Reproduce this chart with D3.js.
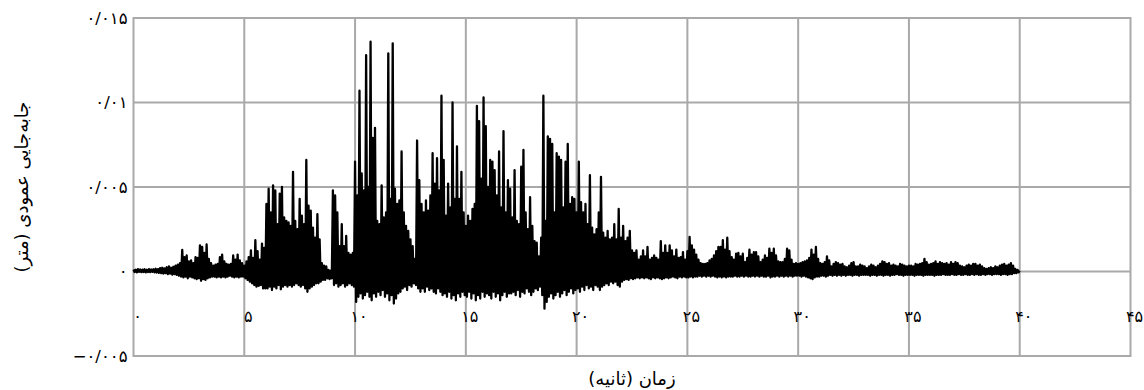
<!DOCTYPE html>
<html>
<head>
<meta charset="utf-8">
<script src="https://cdn.jsdelivr.net/npm/d3@7"></script>
<style>
  body { margin: 0; background: #fff; }
  text { font-family: "DejaVu Sans", sans-serif; fill: #000; }
</style>
</head>
<body>
<svg id="chart" width="1144" height="390"></svg>
<script>
// Vertical displacement record, in millimetres.
// Each second is one row of ten values; every peak is followed half a step later by its trough.
const sampleStep = 0.1; // seconds between successive peaks
const peakMm = [
  0.12,0.1,0.14,0.12,0.11,0.13,0.1,0.14,0.12,0.13,
  0.16,0.14,0.2,0.22,0.18,0.25,0.3,0.22,0.28,0.35,
  0.4,0.5,1.28,0.85,0.95,0.6,0.65,0.5,0.85,0.8,
  1.55,1.45,1.1,1.6,0.75,0.5,0.35,0.4,0.45,0.85,
  1.0,0.6,0.45,0.4,0.45,0.95,0.7,1.0,0.65,0.5,
  0.35,0.6,0.85,1.25,0.8,1.85,1.2,0.7,1.65,1.4,
  4.0,4.9,3.5,5.1,4.8,2.8,4.6,5.0,3.2,3.0,
  2.9,2.7,5.9,3.0,2.5,4.3,3.3,2.8,6.6,3.9,
  3.6,2.6,2.0,3.4,1.9,0.5,0.35,0.3,0.1,0.05,
  4.8,4.5,3.5,1.5,2.8,1.5,2.1,1.1,1.0,1.1,
  6.5,4.5,10.7,5.8,4.8,12.8,5.0,13.6,7.9,8.5,
  3.0,2.8,5.1,3.2,3.5,12.9,4.3,13.5,4.9,4.0,
  4.2,7.1,3.5,2.7,2.4,1.9,1.5,0.75,7.75,5.4,
  4.0,3.5,4.2,3.6,4.5,7.0,5.2,6.7,4.8,10.4,
  6.6,3.3,5.2,3.8,10.0,4.3,7.4,4.3,5.9,3.5,
  2.7,3.3,3.0,3.7,4.0,9.8,8.9,5.5,10.3,8.6,
  5.0,6.6,6.5,6.0,4.5,7.1,3.8,8.3,3.5,5.4,
  4.9,3.2,6.0,3.0,2.8,6.2,7.2,3.5,2.5,4.4,
  2.7,1.8,1.7,0.9,2.0,10.4,3.0,8.0,7.85,7.55,
  3.5,7.0,6.8,6.6,3.8,6.5,7.55,4.0,4.4,4.3,
  3.5,6.5,4.1,3.5,4.0,2.8,5.7,2.6,2.2,2.5,
  3.5,5.6,2.3,2.0,2.4,1.9,2.0,2.8,1.9,3.7,
  2.0,2.7,1.8,2.0,2.4,1.25,1.1,1.25,0.7,0.9,
  1.25,0.9,1.45,0.7,0.8,0.95,0.8,0.7,1.8,1.1,
  1.55,1.1,1.55,1.25,0.9,1.3,0.8,0.85,1.15,0.7,
  1.2,2.05,1.55,1.3,1.0,0.7,0.5,0.45,0.45,0.5,
  0.65,0.75,0.95,1.2,1.45,1.45,1.85,1.3,2.0,1.2,
  0.85,0.7,1.05,1.1,0.9,1.05,0.55,0.8,1.3,1.0,
  1.15,1.15,0.9,0.55,0.7,0.95,0.8,1.35,1.1,1.35,
  0.95,0.6,0.55,0.55,0.75,1.35,1.25,0.7,0.45,0.5,
  0.45,0.5,0.55,0.6,0.65,0.8,1.3,1.0,1.45,0.75,
  0.5,0.45,0.55,0.9,0.65,0.3,0.45,0.55,0.5,0.4,
  0.45,0.3,0.25,0.35,0.5,0.55,0.3,0.3,0.4,0.35,
  0.3,0.2,0.3,0.4,0.35,0.25,0.35,0.45,0.6,0.55,
  0.45,0.5,0.35,0.4,0.35,0.3,0.45,0.4,0.35,0.3,
  0.35,0.35,0.3,0.45,0.4,0.45,0.5,0.75,0.55,0.4,
  0.45,0.5,0.6,0.45,0.55,0.5,0.45,0.5,0.4,0.55,
  0.45,0.55,0.5,0.35,0.3,0.25,0.35,0.4,0.35,0.45,
  0.45,0.35,0.4,0.3,0.2,0.15,0.2,0.25,0.2,0.3,
  0.25,0.35,0.4,0.45,0.35,0.4,0.5,0.35,0.15,0.1
];
const troughMm = [
  -0.03,-0.05,-0.02,-0.04,-0.03,-0.05,-0.03,-0.04,-0.02,-0.05,
  -0.06,-0.08,-0.1,-0.12,-0.1,-0.15,-0.12,-0.18,-0.15,-0.2,
  -0.25,-0.3,-0.35,-0.3,-0.4,-0.3,-0.35,-0.4,-0.45,-0.4,
  -0.55,-0.45,-0.5,-0.4,-0.35,-0.3,-0.3,-0.35,-0.3,-0.35,
  -0.3,-0.35,-0.3,-0.25,-0.3,-0.35,-0.3,-0.35,-0.3,-0.3,
  -0.4,-0.5,-0.6,-0.7,-0.8,-0.9,-0.85,-0.8,-1.0,-1.0,
  -1.0,-0.9,-1.1,-0.9,-1.0,-0.8,-1.05,-0.9,-0.8,-0.9,
  -0.8,-0.9,-0.8,-0.7,-0.8,-0.9,-0.8,-1.0,-1.2,-1.0,
  -0.9,-0.8,-0.7,-0.7,-0.6,-0.5,-0.5,-0.4,-0.45,-0.4,
  -0.8,-0.7,-0.9,-0.8,-0.7,-0.9,-0.8,-0.7,-0.8,-0.9,
  -1.8,-1.5,-1.3,-1.6,-1.4,-1.2,-1.5,-1.7,-1.3,-1.5,
  -1.2,-1.4,-1.1,-1.5,-1.3,-1.7,-1.4,-1.9,-1.6,-1.3,
  -1.2,-1.0,-0.9,-1.1,-0.8,-0.9,-0.7,-0.8,-1.0,-1.2,
  -1.0,-1.2,-0.9,-1.1,-1.0,-1.2,-1.3,-1.0,-1.2,-1.4,
  -1.3,-1.5,-1.2,-1.6,-1.4,-1.7,-1.3,-1.5,-1.2,-1.4,
  -1.5,-1.2,-1.6,-1.3,-1.7,-1.4,-1.6,-1.2,-1.5,-1.3,
  -1.4,-1.6,-1.2,-1.5,-1.3,-1.7,-1.4,-1.2,-1.5,-1.3,
  -1.3,-1.2,-1.4,-1.1,-1.5,-1.2,-1.3,-1.0,-1.2,-1.4,
  -1.2,-1.0,-1.1,-0.9,-1.4,-2.2,-1.8,-1.5,-1.3,-1.6,
  -1.4,-1.2,-1.5,-1.3,-1.1,-1.4,-1.2,-1.0,-1.3,-1.1,
  -1.0,-1.2,-0.9,-1.1,-0.8,-1.0,-0.9,-1.1,-0.8,-0.9,
  -1.1,-0.9,-0.8,-0.7,-0.8,-0.6,-0.7,-0.6,-0.8,-0.9,
  -0.6,-0.5,-0.45,-0.5,-0.4,-0.45,-0.4,-0.35,-0.4,-0.35,
  -0.4,-0.35,-0.4,-0.45,-0.35,-0.4,-0.35,-0.4,-0.45,-0.4,
  -0.35,-0.4,-0.35,-0.3,-0.35,-0.4,-0.3,-0.35,-0.3,-0.35,
  -0.35,-0.3,-0.35,-0.3,-0.3,-0.25,-0.3,-0.25,-0.3,-0.25,
  -0.3,-0.25,-0.3,-0.35,-0.3,-0.35,-0.3,-0.35,-0.3,-0.3,
  -0.3,-0.25,-0.3,-0.3,-0.25,-0.3,-0.25,-0.3,-0.3,-0.25,
  -0.3,-0.25,-0.3,-0.25,-0.3,-0.3,-0.25,-0.35,-0.3,-0.3,
  -0.25,-0.3,-0.25,-0.3,-0.25,-0.3,-0.25,-0.3,-0.25,-0.25,
  -0.25,-0.3,-0.25,-0.3,-0.35,-0.4,-0.45,-0.35,-0.3,-0.3,
  -0.25,-0.25,-0.3,-0.25,-0.2,-0.25,-0.2,-0.25,-0.2,-0.25,
  -0.2,-0.25,-0.2,-0.2,-0.25,-0.2,-0.2,-0.25,-0.2,-0.2,
  -0.2,-0.2,-0.25,-0.2,-0.2,-0.25,-0.2,-0.2,-0.25,-0.2,
  -0.2,-0.25,-0.2,-0.2,-0.15,-0.2,-0.2,-0.25,-0.2,-0.2,
  -0.2,-0.2,-0.25,-0.2,-0.2,-0.2,-0.25,-0.2,-0.2,-0.2,
  -0.2,-0.25,-0.2,-0.2,-0.2,-0.15,-0.2,-0.2,-0.2,-0.15,
  -0.2,-0.2,-0.15,-0.2,-0.2,-0.15,-0.2,-0.2,-0.15,-0.2,
  -0.15,-0.2,-0.2,-0.15,-0.2,-0.15,-0.15,-0.2,-0.15,-0.15,
  -0.15,-0.2,-0.15,-0.15,-0.2,-0.15,-0.15,-0.1,-0.1,-0.05
];
const endTime = 40;
const endValueMm = 0.05;

const xTicks = [0, 5, 10, 15, 20, 25, 30, 35, 40, 45];
const xTickLabels = ["۰", "۵", "۱۰", "۱۵", "۲۰", "۲۵", "۳۰", "۳۵", "۴۰", "۴۵"];
const yTicks = [-0.005, 0, 0.005, 0.01, 0.015];
const yTickLabels = ["−۰/۰۰۵", "۰", "۰/۰۰۵", "۰/۰۱", "۰/۰۱۵"];
const xTitle = "زمان (ثانیه)";
const yTitle = "جابه‌جایی عمودی (متر)";

// Build the time series (metres) from the peak/trough readings.
const series = [];
peakMm.forEach((p, i) => {
  const t = i * sampleStep;
  series.push({ t: t, v: p / 1000 });
  series.push({ t: t + sampleStep / 2, v: troughMm[i] / 1000 });
});
series.push({ t: endTime, v: endValueMm / 1000 });

const svg = d3.select("#chart");
const plot = { left: 133.5, right: 1130.5, top: 18, bottom: 356 };

const x = d3.scaleLinear().domain([0, 45]).range([plot.left, plot.right]);
const y = d3.scaleLinear().domain([-0.005, 0.015]).range([plot.bottom, plot.top]);

const gridColor = "#a9a9a9";

// Grid (also forms the frame)
svg.append("g").selectAll("line").data(yTicks).join("line")
  .attr("x1", plot.left).attr("x2", plot.right)
  .attr("y1", d => y(d)).attr("y2", d => y(d))
  .attr("stroke", gridColor).attr("stroke-width", 2);

svg.append("g").selectAll("line").data(xTicks).join("line")
  .attr("x1", d => x(d)).attr("x2", d => x(d))
  .attr("y1", plot.top - 1).attr("y2", plot.bottom + 1)
  .attr("stroke", gridColor).attr("stroke-width", 2);

// Displacement trace
const line = d3.line().x(d => x(d.t)).y(d => y(d.v));
svg.append("path")
  .datum(series)
  .attr("d", line)
  .attr("fill", "none")
  .attr("stroke", "#000")
  .attr("stroke-width", 2.3)
  .attr("stroke-linejoin", "round");

// X tick labels, sitting below the zero line
svg.append("g").selectAll("text").data(xTicks).join("text")
  .attr("x", d => x(d) + 4)
  .attr("y", 322)
  .attr("text-anchor", "middle")
  .attr("font-size", 16)
  .text((d, i) => xTickLabels[i]);

// Y tick labels
svg.append("g").selectAll("text").data(yTicks).join("text")
  .attr("x", plot.left - 6)
  .attr("y", d => y(d))
  .attr("dy", "0.35em")
  .attr("text-anchor", "end")
  .attr("font-size", 16.5)
  .text((d, i) => yTickLabels[i]);

// Axis titles
svg.append("text")
  .attr("x", (plot.left + plot.right) / 2)
  .attr("y", 385)
  .attr("text-anchor", "middle")
  .attr("direction", "rtl")
  .attr("font-size", 18)
  .text(xTitle);

svg.append("text")
  .attr("transform", `translate(28,${(plot.top + plot.bottom) / 2}) rotate(-90)`)
  .attr("text-anchor", "middle")
  .attr("direction", "rtl")
  .attr("font-size", 18)
  .text(yTitle);
</script>
</body>
</html>
